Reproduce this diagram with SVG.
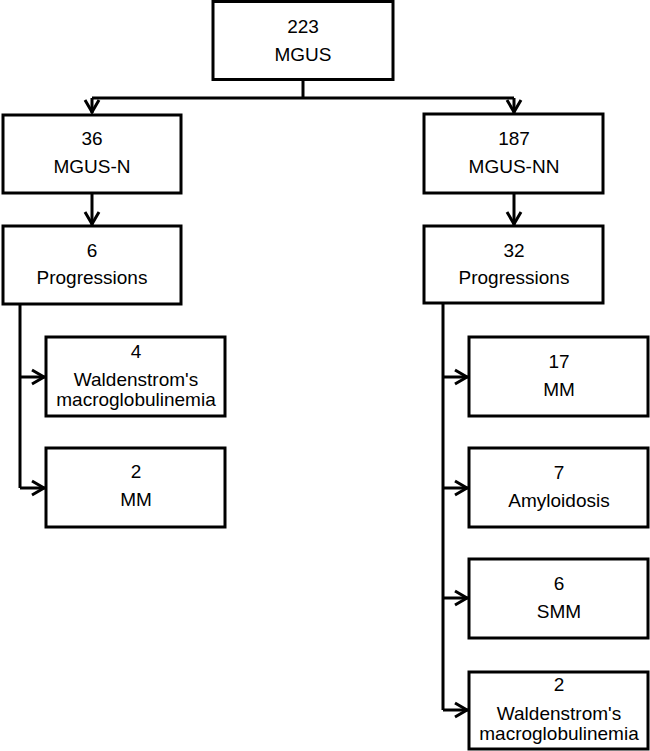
<svg xmlns="http://www.w3.org/2000/svg" width="650" height="751" viewBox="0 0 650 751">
<style>
.box{fill:#fff;stroke:#000;stroke-width:3}
.t{font-family:"Liberation Sans",Arial,sans-serif;font-size:19px;fill:#000;text-anchor:middle}
.c{fill:none;stroke:#000;stroke-width:3}
</style>
<defs>
<marker id="arr" markerUnits="userSpaceOnUse" markerWidth="20" markerHeight="20" viewBox="-16 -10 20 20" refX="0" refY="0" orient="auto">
<path d="M-13,-7 L-1,0 L-13,7" fill="none" stroke="#000" stroke-width="3"/>
</marker>
</defs>
<rect width="650" height="751" fill="#fff"/>
<g id="connectors">
<path class="c" d="M303,80 V98"/>
<path class="c" d="M92,98 H514"/>
<path class="c" d="M92,98 V113" marker-end="url(#arr)"/>
<path class="c" d="M514,98 V113" marker-end="url(#arr)"/>
<path class="c" d="M92,193 V225" marker-end="url(#arr)"/>
<path class="c" d="M514,193 V225" marker-end="url(#arr)"/>
<path class="c" d="M20,304 V488"/>
<path class="c" d="M20,377 H45" marker-end="url(#arr)"/>
<path class="c" d="M20,488 H45" marker-end="url(#arr)"/>
<path class="c" d="M443,303 V710"/>
<path class="c" d="M443,377 H468" marker-end="url(#arr)"/>
<path class="c" d="M443,488 H468" marker-end="url(#arr)"/>
<path class="c" d="M443,598 H468" marker-end="url(#arr)"/>
<path class="c" d="M443,710 H468" marker-end="url(#arr)"/>
</g>
<g id="mgus">
<rect class="box" x="213" y="1.5" width="180" height="78"/>
<text class="t" x="303" y="33">223</text>
<text class="t" x="303" y="61">MGUS</text>
</g>
<g id="mgus-n">
<rect class="box" x="3" y="115" width="178" height="78"/>
<text class="t" x="92" y="145">36</text>
<text class="t" x="92" y="173">MGUS-N</text>
</g>
<g id="mgus-nn">
<rect class="box" x="424" y="114" width="179" height="79"/>
<text class="t" x="514" y="145">187</text>
<text class="t" x="514" y="173">MGUS-NN</text>
</g>
<g id="prog-left">
<rect class="box" x="3" y="226" width="178" height="78"/>
<text class="t" x="92" y="257">6</text>
<text class="t" x="92" y="284">Progressions</text>
</g>
<g id="prog-right">
<rect class="box" x="424" y="226" width="179" height="77"/>
<text class="t" x="514" y="257">32</text>
<text class="t" x="514" y="284">Progressions</text>
</g>
<g id="left-wm">
<rect class="box" x="46" y="337" width="179" height="79"/>
<text class="t" x="136" y="358">4</text>
<text class="t" x="136" y="386">Waldenstrom's</text>
<text class="t" x="136" y="406">macroglobulinemia</text>
</g>
<g id="left-mm">
<rect class="box" x="46" y="448" width="179" height="79"/>
<text class="t" x="136" y="478">2</text>
<text class="t" x="136" y="506">MM</text>
</g>
<g id="right-mm">
<rect class="box" x="469" y="337" width="179" height="79"/>
<text class="t" x="559" y="368">17</text>
<text class="t" x="559" y="396">MM</text>
</g>
<g id="right-amyloidosis">
<rect class="box" x="469" y="448" width="179" height="79"/>
<text class="t" x="559" y="479">7</text>
<text class="t" x="559" y="507">Amyloidosis</text>
</g>
<g id="right-smm">
<rect class="box" x="469" y="559" width="179" height="79"/>
<text class="t" x="559" y="590">6</text>
<text class="t" x="559" y="618">SMM</text>
</g>
<g id="right-wm">
<rect class="box" x="469" y="672" width="179" height="77"/>
<text class="t" x="559" y="691">2</text>
<text class="t" x="559" y="720">Waldenstrom's</text>
<text class="t" x="559" y="740">macroglobulinemia</text>
</g>
</svg>
